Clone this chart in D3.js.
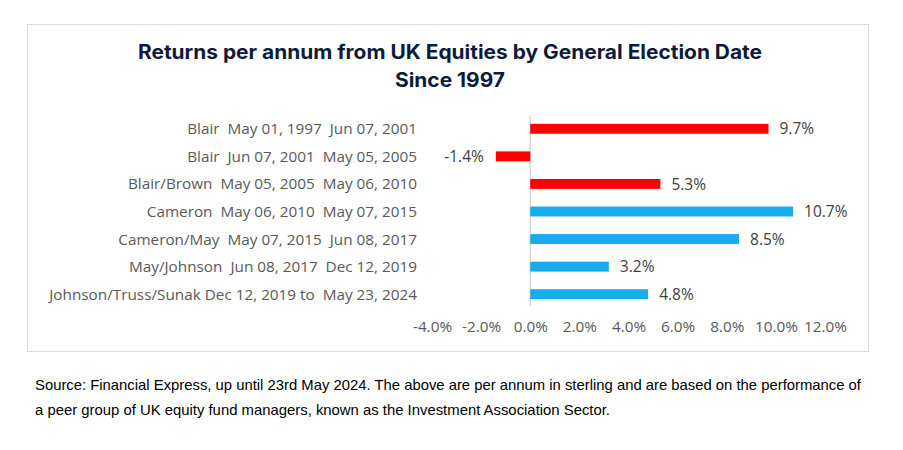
<!DOCTYPE html>
<html><head><meta charset="utf-8">
<script src="https://cdn.jsdelivr.net/npm/d3@7"></script>
<style>body{margin:0;background:#fff;} svg{display:block;}</style>
</head><body>
<svg id="chart" width="903" height="450"></svg>
<script>
const categories = [
  "Blair  May 01, 1997  Jun 07, 2001",
  "Blair  Jun 07, 2001  May 05, 2005",
  "Blair/Brown  May 05, 2005  May 06, 2010",
  "Cameron  May 06, 2010  May 07, 2015",
  "Cameron/May  May 07, 2015  Jun 08, 2017",
  "May/Johnson  Jun 08, 2017  Dec 12, 2019",
  "Johnson/Truss/Sunak Dec 12, 2019 to  May 23, 2024"
];
const returnsPct = [9.7, -1.4, 5.3, 10.7, 8.5, 3.2, 4.8];
const party = ["Labour","Labour","Labour","Conservative","Conservative","Conservative","Conservative"];
const tickValues = [-4, -2, 0, 2, 4, 6, 8, 10, 12];
const titleLines = ["Returns per annum from UK Equities by General Election Date", "Since 1997"];
const footnoteLines = [
  "Source: Financial Express, up until 23rd May 2024. The above are per annum in sterling and are based on the performance of",
  "a peer group of UK equity fund managers, known as the Investment Association Sector."
];

const svg = d3.select("#chart");
const colors = {Labour: "#ff0000", Conservative: "#19acec"};

// frame
svg.append("rect").attr("x", 27.5).attr("y", 24.5).attr("width", 841).attr("height", 327)
  .attr("fill", "#fff").attr("stroke", "#d9d9d9").attr("stroke-width", 1);

// title
svg.selectAll("text.title").data(titleLines).join("text")
  .attr("class", "title")
  .attr("x", 450).attr("y", (d, i) => 59 + i * 28)
  .attr("text-anchor", "middle")
  .attr("font-family", "Inter, Roboto, sans-serif")
  .attr("font-weight", "bold").attr("font-size", 19.5)
  .attr("fill", "#0e1a3a")
  .attr("textLength", (d, i) => i === 0 ? 624 : 110)
  .attr("lengthAdjust", "spacingAndGlyphs")
  .text(d => d);

const x = d3.scaleLinear().domain([-4, 12]).range([432, 825]);
const y = d3.scaleBand().domain(categories).range([115, 308]).paddingInner(0.64).paddingOuter(0.32);

// zero line
svg.append("line").attr("x1", x(0)).attr("x2", x(0)).attr("y1", 116).attr("y2", 306)
  .attr("stroke", "#d9d9d9").attr("stroke-width", 1.5);

// bars
svg.selectAll("rect.bar").data(returnsPct).join("rect")
  .attr("class", "bar")
  .attr("x", d => x(Math.min(0, d)))
  .attr("width", d => Math.abs(x(d) - x(0)))
  .attr("y", (d, i) => y(categories[i]))
  .attr("height", y.bandwidth())
  .attr("fill", (d, i) => colors[party[i]]);

const sans = "'Open Sans', 'Noto Sans', sans-serif";

// value labels
svg.selectAll("text.val").data(returnsPct).join("text")
  .attr("class", "val")
  .attr("x", d => d >= 0 ? x(d) + 11 : x(d) - 12)
  .attr("y", (d, i) => y(categories[i]) + y.bandwidth() / 2)
  .attr("dy", "0.36em")
  .attr("text-anchor", d => d >= 0 ? "start" : "end")
  .attr("font-family", sans)
  .attr("font-size", 15.5).attr("fill", "#404040")
  .text(d => d.toFixed(1) + "%");

// category labels
svg.selectAll("text.cat").data(categories).join("text")
  .attr("class", "cat")
  .attr("x", 417)
  .attr("y", d => y(d) + y.bandwidth() / 2)
  .attr("dy", "0.36em")
  .attr("text-anchor", "end")
  .attr("font-family", sans)
  .attr("font-size", 15.3).attr("fill", "#595959")
  .style("white-space", "pre")
  .text(d => d);

// x axis
const axis = d3.axisBottom(x).tickValues(tickValues).tickSize(0).tickFormat(d => d.toFixed(1) + "%");
const g = svg.append("g").attr("transform", "translate(0,319)").call(axis);
g.select(".domain").remove();
g.selectAll("text").attr("font-family", sans)
  .attr("font-size", 15.3).attr("fill", "#595959").attr("dy", "0.71em").attr("y", 2);

// footnote
svg.selectAll("text.foot").data(footnoteLines).join("text")
  .attr("class", "foot")
  .attr("x", 35).attr("y", (d, i) => 390 + i * 25)
  .attr("font-family", "'Liberation Sans', Arial, sans-serif")
  .attr("font-size", 14.5).attr("fill", "#000")
  .attr("textLength", (d, i) => i === 0 ? 826 : 575)
  .attr("lengthAdjust", "spacingAndGlyphs")
  .text(d => d);
</script>
</body></html>
